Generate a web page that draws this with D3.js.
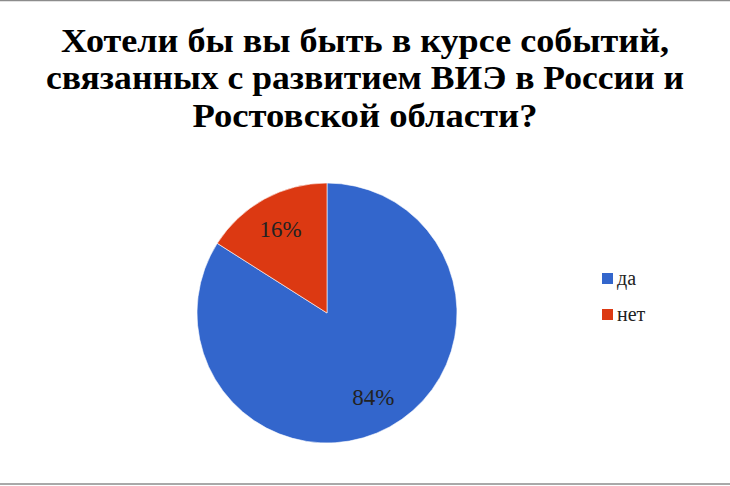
<!DOCTYPE html>
<html>
<head>
<meta charset="utf-8">
<script src="https://cdn.jsdelivr.net/npm/d3@7"></script>
<style>
  html, body { margin: 0; padding: 0; background: #fff; }
  svg { display: block; }
</style>
</head>
<body>
<div id="chart"></div>
<script>
const categories = ['да', 'нет'];
const values = [84, 16];
const colors = ['#3366cc', '#dc3912'];
const titleLines = [
  'Хотели бы вы быть в курсе событий,',
  'связанных с развитием ВИЭ в России и',
  'Ростовской области?'
];

const W = 730;
const H = 486;
const pieX = 327;
const pieY = 313;
const pieR = 130;

const svg = d3.select('#chart')
  .append('svg')
  .attr('width', W)
  .attr('height', H)
  .style('font-family', "'Liberation Serif'");

svg.append('rect')
  .attr('width', W)
  .attr('height', H)
  .attr('fill', '#fff');

// grey frame lines top and bottom
svg.append('line')
  .attr('x1', 0).attr('x2', W)
  .attr('y1', 0.5).attr('y2', 0.5)
  .attr('stroke', '#8c8c8c')
  .attr('stroke-width', 1.5);

svg.append('line')
  .attr('x1', 0).attr('x2', W)
  .attr('y1', 484).attr('y2', 484)
  .attr('stroke', '#8c8c8c')
  .attr('stroke-width', 1.5);

// title, three centred lines squeezed to the widths of the original
const titleWidths = [608, 638, 345];
const titleBase = [52, 89, 127];
titleLines.forEach((line, i) => {
  svg.append('text')
    .attr('x', W / 2)
    .attr('y', titleBase[i])
    .attr('text-anchor', 'middle')
    .style('font-family', "'Liberation Serif'")
    .style('font-weight', 'bold')
    .style('font-size', '33px')
    .attr('fill', '#000')
    .attr('textLength', titleWidths[i])
    .attr('lengthAdjust', 'spacingAndGlyphs')
    .text(line);
});

// pie
const pie = d3.pie().sort(null).value(d => d);
const arcs = pie(values);
const arc = d3.arc().innerRadius(0).outerRadius(pieR);
const labelArc = d3.arc().innerRadius(pieR * 0.74).outerRadius(pieR * 0.74);

const pieG = svg.append('g')
  .attr('transform', `translate(${pieX},${pieY})`);

pieG.selectAll('path')
  .data(arcs)
  .join('path')
  .attr('d', arc)
  .attr('fill', (d, i) => colors[i])
  .attr('stroke', '#fff')
  .attr('stroke-width', 0.6);

const total = d3.sum(values);
arcs.forEach(d => {
  const [x, y] = labelArc.centroid(d);
  svg.append('text')
    .attr('x', pieX + x)
    .attr('y', pieY + y + 8)
    .attr('text-anchor', 'middle')
    .style('font-family', "'Liberation Serif'")
    .style('font-size', '23px')
    .attr('fill', '#222')
    .text(Math.round(d.data / total * 100) + '%');
});

// legend
categories.forEach((name, i) => {
  svg.append('rect')
    .attr('x', 602)
    .attr('y', 273 + i * 36)
    .attr('width', 11)
    .attr('height', 11)
    .attr('fill', colors[i]);

  svg.append('text')
    .attr('x', 617)
    .attr('y', 285 + i * 36)
    .style('font-family', "'Liberation Serif'")
    .style('font-size', '20px')
    .attr('fill', '#222')
    .text(name);
});
</script>
</body>
</html>
